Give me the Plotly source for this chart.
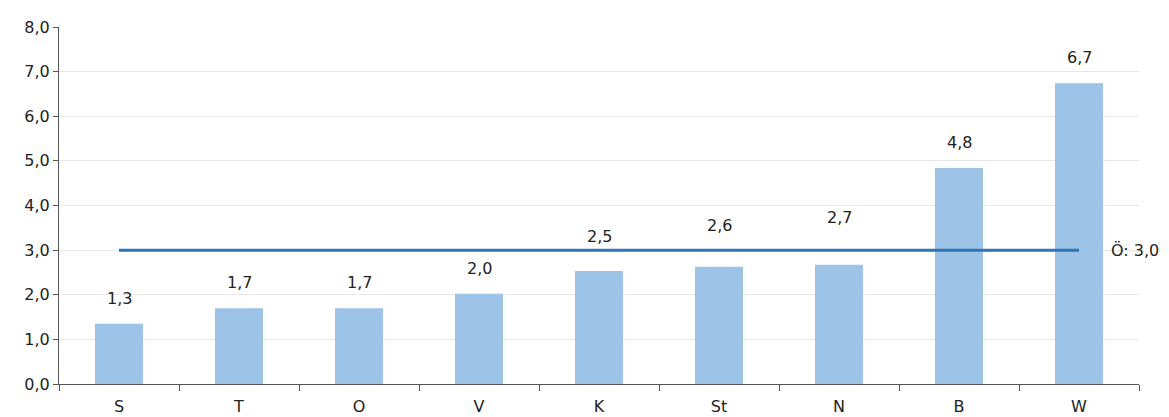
import plotly.graph_objects as go

cats = ["S", "T", "O", "V", "K", "St", "N", "B", "W"]
vals = [1.35, 1.70, 1.70, 2.02, 2.53, 2.63, 2.67, 4.84, 6.74]
labels = ["1,3", "1,7", "1,7", "2,0", "2,5", "2,6", "2,7", "4,8", "6,7"]
avg = 3.0
avg_label = "Ö: 3,0"

label_shift = [14, 14, 14, 14, 23, 30, 36, 14, 14]

fig = go.Figure()
fig.add_bar(x=cats, y=vals, marker_color="#9dc3e6", marker_line_width=0, width=0.4)
for c, v, t, s in zip(cats, vals, labels, label_shift):
    fig.add_annotation(x=c, y=v, text=t, showarrow=False, yanchor="bottom",
                       yshift=s, font=dict(size=16, color="#222"))
fig.add_scatter(x=[cats[0], cats[-1]], y=[avg, avg], mode="lines",
                line=dict(color="#2e75b6", width=3), hoverinfo="skip")
fig.add_annotation(x=cats[-1], y=avg, text=avg_label, showarrow=False,
                   xanchor="left", xshift=30, font=dict(size=16, color="#222"))
fig.update_layout(
    width=1169, height=417, showlegend=False, separators=", ",
    plot_bgcolor="white", paper_bgcolor="white",
    margin=dict(l=51, r=38, t=19, b=41),
    font=dict(family="DejaVu Sans", size=16, color="#222"),
)
fig.update_xaxes(showline=True, linecolor="#555", ticks="outside", automargin=False,
                 range=[-0.5, len(cats) - 0.5], ticklabelstandoff=8,
                 tickson="boundaries", ticklen=6, tickcolor="#555")
fig.update_yaxes(range=[0, 8], dtick=1, tickformat=".1f", showgrid=True, automargin=False,
                 gridcolor="#e6e6e6", showline=True, linecolor="#555",
                 ticks="outside", ticklen=5, tickcolor="#555", zeroline=False)
fig.write_html("out.html")
